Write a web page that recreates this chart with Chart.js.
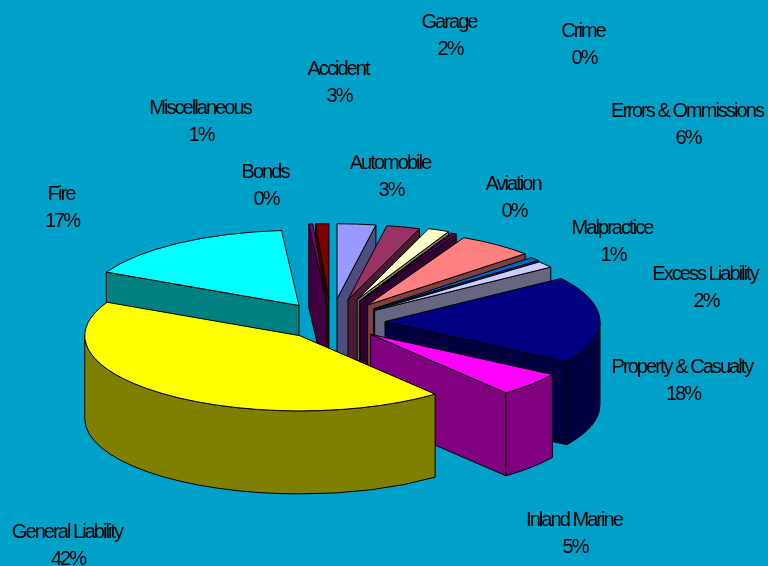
<!DOCTYPE html>
<html>
<head>
<meta charset="utf-8">
<title>Premium by line</title>
<script src="https://cdn.jsdelivr.net/npm/chart.js@4/dist/chart.umd.min.js"></script>
<style>
	html, body { margin: 0; padding: 0; background: #00a1c8; }
	canvas { display: block; }
</style>
</head>
<body>
<canvas id="pie" width="768" height="566"></canvas>
<script>
// slices clockwise from 12 o'clock
const categories = ["Accident", "Automobile", "Garage", "Crime", "Aviation", "Errors & Ommissions", "Malpractice", "Excess Liability", "Property & Casualty", "Inland Marine", "General Liability", "Fire", "Bonds", "Miscellaneous"];
const shares = [2.9, 2.5, 1.6, 0.1, 0.3, 5.7, 0.8, 1.4, 18.7, 5.2, 43.2, 16.4, 0.3, 1];
const printedPercents = ["3%", "3%", "2%", "0%", "0%", "6%", "1%", "2%", "18%", "5%", "42%", "17%", "0%", "1%"];

const sliceColors = ["#9999ff", "#993366", "#ffffcc", "#ccffff", "#660066", "#ff8080", "#0066cc", "#ccccff", "#000080", "#ff00ff", "#ffff00", "#00ffff", "#800080", "#800000"];
const explodePx = [66, 66, 69, 66, 66, 61, 57, 55, 54, 53, 50, 57, 66, 66];
const labelSpots = [[338, 69], [390, 163], [449, 22], [583, 31], [513, 184], [687, 111], [612, 228], [705, 274], [682, 367], [574, 520], [67, 532], [61, 194], [265, 172], [200, 108]];

const PIE_RADIUS = 215;
const TILT = 0.35;
const DEPTH = 83;

const darken = (hex) => {
	const n = parseInt(hex.slice(1), 16);
	const part = (shift) => Math.round(((n >> shift) & 255) / 2);
	return `rgb(${part(16)}, ${part(8)}, ${part(0)})`;
};

const sliceGeometry = (arc, i) => {
	const mid = (arc.startAngle + arc.endAngle) / 2;
	const ax = arc.x + Math.cos(mid) * explodePx[i];
	const ay = arc.y + Math.sin(mid) * explodePx[i] * TILT;
	return { ax, ay, mid, start: arc.startAngle, end: arc.endAngle, r: arc.outerRadius };
};

const radialFace = (ctx, g, angle, color) => {
	const px = g.ax + Math.cos(angle) * g.r;
	const py = g.ay + Math.sin(angle) * g.r * TILT;
	ctx.beginPath();
	ctx.moveTo(g.ax, g.ay);
	ctx.lineTo(px, py);
	ctx.lineTo(px, py + DEPTH);
	ctx.lineTo(g.ax, g.ay + DEPTH);
	ctx.closePath();
	ctx.fillStyle = color;
	ctx.fill();
	ctx.stroke();
};

const drawSides = (ctx, arc, i) => {
	const g = sliceGeometry(arc, i);
	const color = darken(sliceColors[i]);
	if (Math.cos(g.start) < 0) radialFace(ctx, g, g.start, color);
	if (Math.cos(g.end) > 0) radialFace(ctx, g, g.end, color);
	const lo = Math.max(g.start, 0);
	const hi = Math.min(g.end, Math.PI);
	if (hi > lo) {
		ctx.beginPath();
		ctx.ellipse(g.ax, g.ay, g.r, g.r * TILT, 0, lo, hi);
		ctx.ellipse(g.ax, g.ay + DEPTH, g.r, g.r * TILT, 0, hi, lo, true);
		ctx.closePath();
		ctx.fillStyle = color;
		ctx.fill();
		ctx.stroke();
	}
};

const drawTop = (ctx, arc, i) => {
	const g = sliceGeometry(arc, i);
	// the library's own arc, squashed into the tilted top and pulled out of the pie
	ctx.save();
	ctx.translate(g.ax, g.ay);
	ctx.scale(1, TILT);
	ctx.translate(-arc.x, -arc.y);
	arc.draw(ctx);
	ctx.restore();
	ctx.beginPath();
	ctx.moveTo(g.ax, g.ay);
	ctx.ellipse(g.ax, g.ay, g.r, g.r * TILT, 0, g.start, g.end);
	ctx.closePath();
	ctx.stroke();
};

const extrudePlugin = {
	id: "extrude",
	beforeDatasetDraw(chart) {
		const ctx = chart.ctx;
		const arcs = chart.getDatasetMeta(0).data;
		const order = arcs.map((arc, i) => i).sort((a, b) => {
			return Math.sin(sliceGeometry(arcs[a], a).mid) - Math.sin(sliceGeometry(arcs[b], b).mid);
		});
		ctx.save();
		ctx.strokeStyle = "#000";
		ctx.lineWidth = 1;
		order.forEach((i) => {
			drawSides(ctx, arcs[i], i);
			drawTop(ctx, arcs[i], i);
		});
		ctx.restore();
		return false;
	},
};

const labelPlugin = {
	id: "sliceLabels",
	afterDraw(chart) {
		const ctx = chart.ctx;
		ctx.save();
		ctx.fillStyle = "#000";
		ctx.font = '20px "Liberation Sans"';
		ctx.letterSpacing = "-1.95px";
		ctx.textAlign = "center";
		ctx.textBaseline = "middle";
		categories.forEach((name, i) => {
			const [x, y] = labelSpots[i];
			ctx.fillText(name, x, y);
			ctx.fillText(printedPercents[i], x + 1, y + 27);
		});
		ctx.restore();
	},
};

new Chart(document.getElementById("pie"), {
	type: "pie",
	data: {
		labels: categories,
		datasets: [
			{
				data: shares,
				backgroundColor: sliceColors,
				borderWidth: 0,
				clip: false,
			},
		],
	},
	options: {
		responsive: false,
		animation: false,
		radius: PIE_RADIUS,
		layout: { padding: { top: 78, right: 106 } },
		plugins: {
			legend: { display: false },
			tooltip: { enabled: false },
		},
	},
	plugins: [extrudePlugin, labelPlugin],
});
</script>
</body>
</html>
